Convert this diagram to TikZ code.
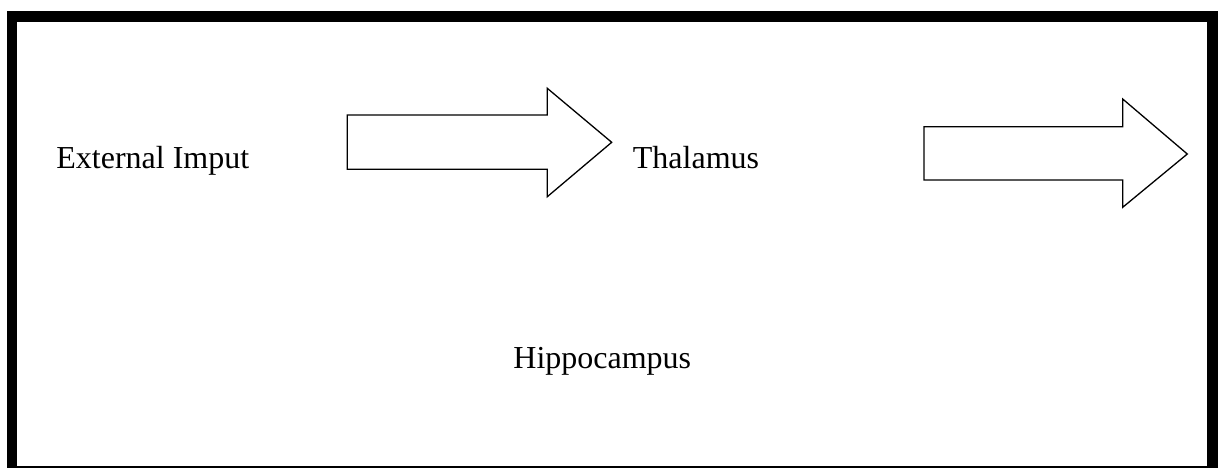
\documentclass[tikz,border=0pt]{standalone}
\usepackage{fontspec}
\setmainfont{Liberation Serif}
\begin{document}
\begin{tikzpicture}[x=0.5pt,y=-0.5pt,
  lbl/.style={anchor=base west,inner sep=0pt,font=\fontsize{16}{19}\selectfont},
  bigarrow/.style={draw=black,fill=white,line width=0.65pt,line join=miter},
  bar/.style={fill=black,draw=none}]
\useasboundingbox (0,0) rectangle (1223,468);
% frame
\fill[bar] (7,11) rectangle (1218,22);
\fill[bar] (7,11) rectangle (17,468);
\fill[bar] (1207,11) rectangle (1218,468);
\fill[bar] (7,466.3) rectangle (1218,468);
% labels
\node[lbl] (ext) at (56,168.3) {External Imput};
\node[lbl] (thal) at (632.5,168.3) {Thalamus};
\node[lbl] (hip) at (513,368) {Hippocampus};
% block arrows
\draw[bigarrow] (347.3,115) -- (547.3,115) -- (547.3,88.3) -- (611.7,142.3)
  -- (547.3,196.7) -- (547.3,169.3) -- (347.3,169.3) -- cycle;
\draw[bigarrow] (924,126.7) -- (1122.7,126.7) -- (1122.7,99) -- (1187.3,154)
  -- (1122.7,207.3) -- (1122.7,180) -- (924,180) -- cycle;
\end{tikzpicture}
\end{document}
